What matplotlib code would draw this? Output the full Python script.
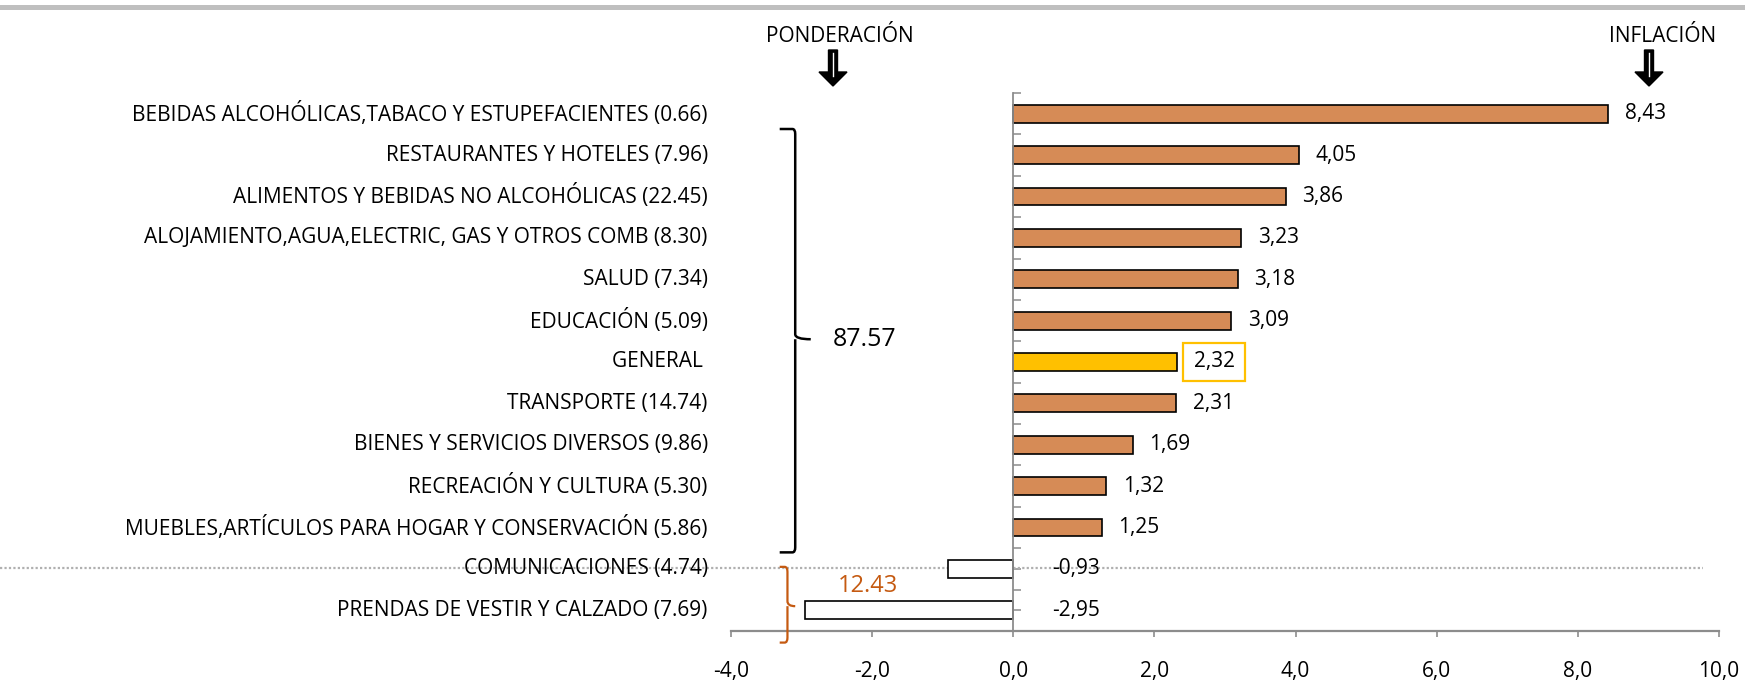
import matplotlib
matplotlib.use("Agg")
import matplotlib.pyplot as plt
from matplotlib.patches import Polygon, Rectangle
from matplotlib.path import Path
from matplotlib.patches import PathPatch
from matplotlib.transforms import blended_transform_factory

plt.rcParams['font.family'] = ['Open Sans', 'DejaVu Sans']

# datos
names = ["BEBIDAS ALCOHÓLICAS,TABACO Y ESTUPEFACIENTES", "RESTAURANTES Y HOTELES",
         "ALIMENTOS Y BEBIDAS NO ALCOHÓLICAS", "ALOJAMIENTO,AGUA,ELECTRIC, GAS Y OTROS COMB",
         "SALUD", "EDUCACIÓN", "GENERAL", "TRANSPORTE", "BIENES Y SERVICIOS DIVERSOS",
         "RECREACIÓN Y CULTURA", "MUEBLES,ARTÍCULOS PARA HOGAR Y CONSERVACIÓN",
         "COMUNICACIONES", "PRENDAS DE VESTIR Y CALZADO"]
weights = ["0.66", "7.96", "22.45", "8.30", "7.34", "5.09", None, "14.74", "9.86",
           "5.30", "5.86", "4.74", "7.69"]
values = [8.43, 4.05, 3.86, 3.23, 3.18, 3.09, 2.32, 2.31, 1.69, 1.32, 1.25, -0.93, -2.95]
xticks = [-4, -2, 0, 2, 4, 6, 8, 10]
xticklabels = ["-4,0", "-2,0", "0,0", "2,0", "4,0", "6,0", "8,0", "10,0"]
sum_up = "87.57"
sum_down = "12.43"

W, H = 1745, 681
fig = plt.figure(figsize=(W / 100, H / 100), dpi=100)
ax = fig.add_axes([731 / W, 1 - 631 / H, (1719 - 731) / W, (631 - 93) / H])

orange = "#D68B56"
yellow = "#FFC000"
gray = "#8C8C8C"
fs = 15

colors = []
for n, v in zip(names, values):
    if n == "GENERAL":
        colors.append(yellow)
    elif v < 0:
        colors.append("white")
    else:
        colors.append(orange)

y = list(range(len(names)))
ax.barh(y, values, height=0.43, color=colors, edgecolor="black", linewidth=1.2, zorder=3)

ax.set_xlim(-4, 10)
ax.set_ylim(len(names) - 0.5, -0.5)

for s in ["top", "right"]:
    ax.spines[s].set_visible(False)
ax.spines["left"].set_position(("data", 0))
ax.spines["left"].set_color(gray)
ax.spines["left"].set_linewidth(1.3)
ax.spines["bottom"].set_color(gray)
ax.spines["bottom"].set_linewidth(1.6)
ax.spines["left"].set_zorder(4)

ax.set_xticks(xticks)
ax.set_xticklabels(xticklabels, fontsize=fs)
ax.tick_params(axis="x", direction="out", length=4.5, width=1.2, color=gray, pad=17)

ax.set_yticks([i - 0.5 for i in range(len(names) + 1)])
ax.set_yticks(y, minor=True)
ax.set_yticklabels([])
ax.tick_params(axis="y", which="both", direction="in", length=5.5, width=1.1, color=gray)

# etiquetas de categoría
for i, (n, w) in enumerate(zip(names, weights)):
    lab = n + " " if w is None else f"{n} ({w})"
    ax.text(-0.0235, i, lab, transform=blended_transform_factory(ax.transAxes, ax.transData),
            ha="right", va="center", fontsize=fs)

# etiquetas de valor
for i, v in enumerate(values):
    txt = f"{v:.2f}".replace(".", ",")
    if v >= 0:
        ax.annotate(txt, (v, i), xytext=(12, 0), textcoords="offset points",
                    ha="left", va="center", fontsize=fs)
    else:
        ax.annotate(txt, (0, i), xytext=(28, 0), textcoords="offset points",
                    ha="left", va="center", fontsize=fs)

# recuadro amarillo en GENERAL
gi = names.index("GENERAL")
ax.add_patch(Rectangle((2.41, gi - 0.47), 0.87, 0.94, fill=False, edgecolor=yellow,
                       linewidth=1.6, clip_on=False, zorder=5))

# línea punteada
ci = names.index("COMUNICACIONES")
ax.plot([0, 1703 / W], [ci - 0.03, ci - 0.03], transform=blended_transform_factory(fig.transFigure, ax.transData),
        color="#B0B0B0", linestyle=(0, (1, 1)), linewidth=1.6, clip_on=False, zorder=2)


def brace(xv, xl, xn, y0, y1, ym, color, lw):
    r = 0.12
    verts = [(xl, y0), (xv - 0.04, y0), (xv, y0), (xv, y0 + r),
             (xv, ym - r), (xv, ym), (xn, ym),
             (xv, ym), (xv, ym + r),
             (xv, y1 - r), (xv, y1), (xv - 0.04, y1), (xl, y1)]
    codes = [Path.MOVETO, Path.LINETO, Path.CURVE3, Path.CURVE3,
             Path.LINETO, Path.CURVE3, Path.CURVE3,
             Path.MOVETO, Path.CURVE3,
             Path.LINETO, Path.CURVE3, Path.CURVE3, Path.LINETO]
    ax.add_patch(PathPatch(Path(verts, codes), fill=False, edgecolor=color, linewidth=lw,
                           clip_on=False, zorder=5))


brace(-3.09, -3.31, -2.87, 0.37, 10.6, 5.45, "black", 1.8)
ax.text(-2.56, 5.45, sum_up, ha="left", va="center", fontsize=18)

brace(-3.2, -3.31, -3.09, 10.95, 12.78, 11.9, "#C55A11", 1.6)
ax.text(-2.49, 11.42, sum_down, ha="left", va="center", fontsize=17, color="#C55A11")

# línea gris superior
fig.add_artist(plt.Line2D([0, 1], [1 - 7 / H, 1 - 7 / H], color="#BFBFBF", linewidth=3.6))

# títulos y flechas
fig.text(840 / W, 1 - 36 / H, "PONDERACIÓN", ha="center", va="center", fontsize=fs)
fig.text(1663 / W, 1 - 36 / H, "INFLACIÓN", ha="center", va="center", fontsize=fs)


def arrow(cx):
    pts = [(cx - 4.5, 50), (cx + 4.5, 50), (cx + 4.5, 72), (cx + 14, 72), (cx, 86),
           (cx - 14, 72), (cx - 4.5, 72)]
    fig.add_artist(Polygon([(px / W, 1 - py / H) for px, py in pts], closed=True,
                           facecolor="black", edgecolor="black", transform=fig.transFigure))
    fig.add_artist(plt.Line2D([cx / W, cx / W], [1 - 53 / H, 1 - 76 / H], color="white", linewidth=1))


arrow(833)
arrow(1649)

fig.savefig("out.png", dpi=100)
